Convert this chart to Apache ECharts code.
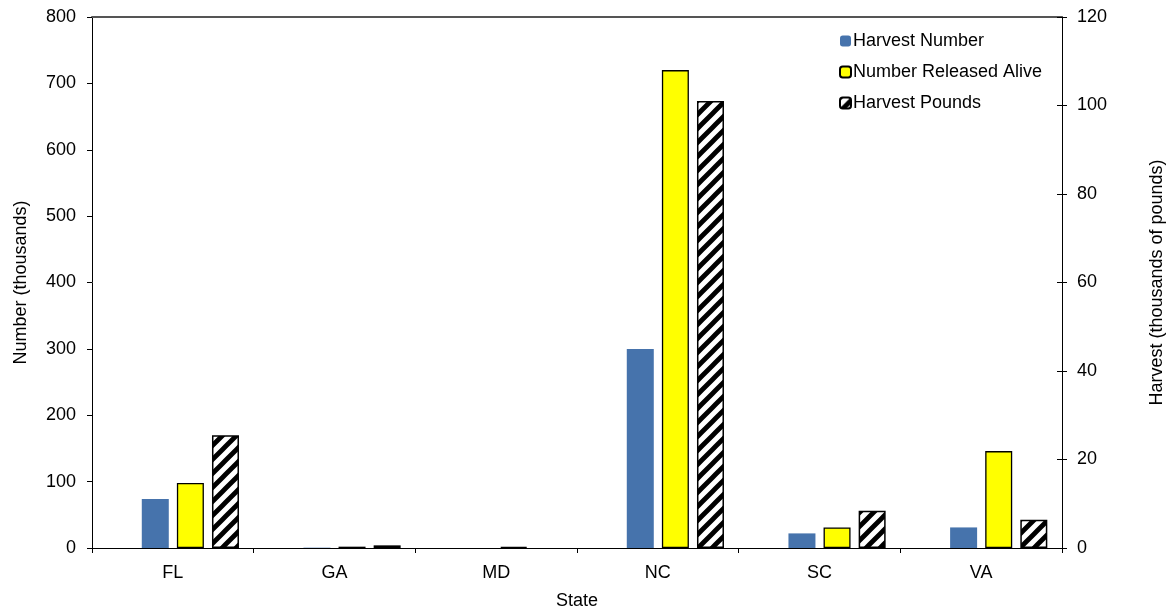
<!DOCTYPE html>
<html>
<head>
<meta charset="utf-8">
<script src="https://cdn.jsdelivr.net/npm/echarts@6/dist/echarts.min.js"></script>
<style>html,body{margin:0;padding:0;background:#fff}#c{width:1168px;height:611px}</style>
</head>
<body>
<div id="c"></div>
<script>
const states = ['FL', 'GA', 'MD', 'NC', 'SC', 'VA'];
const harvestNumber = [74, 0.5, null, 300, 22, 31];
const releasedAlive = [98, 2, 1.5, 720, 31, 146];
const harvestPounds = [25.5, 0.6, null, 101, 8.4, 6.4];
const leftTicks = [0, 100, 200, 300, 400, 500, 600, 700, 800];
const rightTicks = [0, 20, 40, 60, 80, 100, 120];

function hatch() {
  const s = 14;
  const c = document.createElement('canvas');
  c.width = s; c.height = s;
  const g = c.getContext('2d');
  g.fillStyle = '#fff'; g.fillRect(0, 0, s, s);
  g.strokeStyle = '#000'; g.lineWidth = 4.8;
  g.beginPath();
  g.moveTo(-2, s + 2); g.lineTo(s + 2, -2);
  g.moveTo(-s / 2 - 2, s / 2 + 2); g.lineTo(s / 2 + 2, -s / 2 - 2);
  g.moveTo(s / 2 - 2, 1.5 * s + 2); g.lineTo(1.5 * s + 2, s / 2 - 2);
  g.stroke();
  return c;
}
const hatchFill = { image: hatch(), repeat: 'repeat' };
const font = 'Liberation Sans, Arial, sans-serif';
const fs = 18;

const chart = echarts.init(document.getElementById('c'), null, { renderer: 'canvas' });
chart.setOption({
  animation: false,
  backgroundColor: '#fff',
  textStyle: { fontFamily: font, color: '#000' },
  grid: { left: 92, right: 106, top: 17, bottom: 63, containLabel: false, outerBoundsMode: 'none' },
  legend: {
    data: ['Harvest Number', 'Number Released Alive', 'Harvest Pounds'],
    orient: 'vertical', left: 834, top: 27,
    itemWidth: 11, itemHeight: 11, itemGap: 13,
    textStyle: { fontFamily: font, fontSize: fs, color: '#000', padding: [0, 0, 0, -3] }
  },
  xAxis: [{
    type: 'category', data: states, position: 'bottom',
    name: 'State', nameLocation: 'middle', nameGap: 44,
    nameTextStyle: { fontFamily: font, fontSize: fs, color: '#000' },
    axisLine: { lineStyle: { color: '#000', width: 1 } },
    axisTick: { show: true, length: 5, lineStyle: { color: '#000' } },
    axisLabel: { fontFamily: font, fontSize: fs, color: '#000', margin: 16 }
  }, {
    type: 'category', data: states, position: 'top',
    axisLine: { onZero: false, lineStyle: { color: '#555', width: 2 } },
    axisTick: { show: false }, axisLabel: { show: false }
  }],
  yAxis: [{
    type: 'value', min: 0, max: 800, interval: 100, position: 'left',
    name: 'Number (thousands)', nameLocation: 'middle', nameGap: 62,
    nameTextStyle: { fontFamily: font, fontSize: fs, color: '#000' },
    axisLine: { show: true, lineStyle: { color: '#000' } },
    axisTick: { show: true, length: 5, lineStyle: { color: '#000' } },
    axisLabel: { fontFamily: font, fontSize: fs, color: '#000', margin: 16,
      formatter: v => leftTicks.includes(v) ? String(v) : '' },
    splitLine: { show: false }
  }, {
    type: 'value', min: 0, max: 120, interval: 20, position: 'right',
    name: 'Harvest (thousands of pounds)', nameLocation: 'middle', nameGap: 86,
    nameTextStyle: { fontFamily: font, fontSize: fs, color: '#000' },
    axisLine: { show: true, lineStyle: { color: '#000' } },
    axisTick: { show: true, length: 5, lineStyle: { color: '#000' } },
    axisLabel: { fontFamily: font, fontSize: fs, color: '#000', margin: 15,
      formatter: v => rightTicks.includes(v) ? String(v) : '' },
    splitLine: { show: false }
  }, {
    type: 'value', min: 0, max: 120, interval: 20, position: 'right',
    axisLine: { show: false },
    axisTick: { show: true, inside: true, length: 5, lineStyle: { color: '#000' } },
    axisLabel: { show: false }, splitLine: { show: false }
  }],
  series: [{
    name: '_spacer', type: 'bar', data: [], barWidth: 27, barGap: '30%'
  }, {
    name: 'Harvest Number', type: 'bar', yAxisIndex: 0, data: harvestNumber,
    barWidth: 27, barGap: '30%',
    itemStyle: { color: '#4673AC' }
  }, {
    name: 'Number Released Alive', type: 'bar', yAxisIndex: 0, data: releasedAlive,
    barWidth: 27, barGap: '30%',
    itemStyle: { color: '#FFFF00', borderColor: '#000', borderWidth: 1.3 }
  }, {
    name: 'Harvest Pounds', type: 'bar', yAxisIndex: 1, data: harvestPounds,
    barWidth: 27, barGap: '30%',
    itemStyle: { color: hatchFill, borderColor: '#000', borderWidth: 1.5 }
  }]
});
</script>
</body>
</html>
